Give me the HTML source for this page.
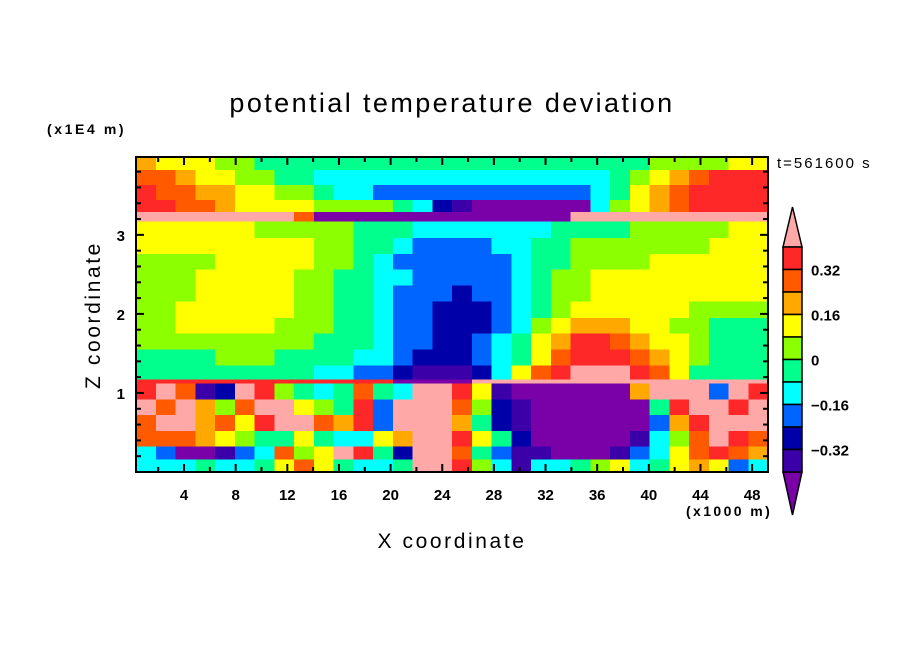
<!DOCTYPE html>
<html><head><meta charset="utf-8"><style>
html,body{margin:0;padding:0;background:#fff;}
svg{display:block;font-family:"Liberation Sans",sans-serif;}
</style></head><body>
<svg id="chart" width="904" height="654" viewBox="0 0 904 654" xmlns="http://www.w3.org/2000/svg">
<rect width="904" height="654" fill="#fff"/>
<text x="452" y="112" text-anchor="middle" font-size="27" letter-spacing="2.4" fill="#000">potential temperature deviation</text>
<text x="47" y="134" font-size="14" font-weight="bold" letter-spacing="2.6" fill="#000">(x1E4 m)</text>
<text x="777" y="168" font-size="15" letter-spacing="2" fill="#000">t=561600 s</text>
<text x="686" y="516" font-size="14" font-weight="bold" letter-spacing="2.4" fill="#000">(x1000 m)</text>
<text x="452" y="548" text-anchor="middle" font-size="21" letter-spacing="2.6" fill="#000">X coordinate</text>
<text x="0" y="0" text-anchor="middle" font-size="21" letter-spacing="2.6" fill="#000" transform="translate(100,315) rotate(-90)">Z coordinate</text>
<g id="cells" shape-rendering="crispEdges"></g>
<g id="axes"></g>
<g id="cbar"></g>
</svg>
<script>
const levelColors = ["#7A00A8","#3C00A8","#0000A8","#0064FF","#00FFFF","#00FF8C","#8CFF00","#FFFF00","#FFA800","#FF5A00","#FF2828","#FFA8A8"];
const colorbarLabels = ["0.32","0.16","0","\u22120.16","\u22120.32"];
const xTicks = [4,8,12,16,20,24,28,32,36,40,44,48];
const yTicks = [1,2,3];
const xDomain = [0.28, 49.23];
const zDomain = [0, 3.985];
const zEdges = [3.985,3.82,3.63,3.44,3.29,3.17,2.96,2.76,2.56,2.36,2.16,1.95,1.75,1.55,1.35,1.17,1.12,0.92,0.72,0.52,0.32,0.16,0.0];
const grid = [
[8,7,7,7,6,6,5,5,5,5,5,5,5,5,5,5,5,5,5,5,5,5,5,5,5,5,6,6,6,6,7,7],
[9,9,8,7,7,6,6,5,5,4,4,4,4,4,4,4,4,4,4,4,4,4,4,4,5,6,7,8,9,10,10,10],
[10,9,9,8,8,7,7,6,6,5,4,4,3,3,3,3,3,3,3,3,3,3,3,4,5,7,8,9,10,10,10,10],
[10,10,9,9,8,7,7,7,7,6,6,6,6,5,4,2,1,0,0,0,0,0,0,4,6,7,8,9,10,10,10,10],
[11,11,11,11,11,11,11,11,9,0,0,0,0,0,0,0,0,0,0,0,0,0,11,11,11,11,11,11,11,11,11,11],
[7,7,7,7,7,7,6,6,6,6,6,5,5,5,4,4,4,4,4,4,4,5,5,5,5,6,6,6,6,6,7,7],
[7,7,7,7,7,7,7,7,7,6,6,5,5,4,3,3,3,3,4,4,5,5,6,6,6,6,6,6,6,7,7,7],
[6,6,6,6,7,7,7,7,7,6,6,5,4,3,3,3,3,3,3,4,5,5,6,6,6,6,7,7,7,7,7,7],
[6,6,6,7,7,7,7,7,6,6,5,5,4,4,3,3,3,3,3,4,5,6,6,7,7,7,7,7,7,7,7,7],
[6,6,6,7,7,7,7,7,6,6,5,5,4,3,3,3,2,3,3,4,5,6,6,7,7,7,7,7,7,7,7,7],
[6,6,7,7,7,7,7,7,6,6,5,5,4,3,3,2,2,2,3,4,5,6,7,7,7,7,7,7,6,6,6,6],
[6,6,7,7,7,7,7,6,6,6,5,5,4,3,3,2,2,2,3,4,6,7,8,8,8,7,7,6,6,5,5,5],
[6,6,6,6,6,6,6,6,6,5,5,5,4,3,3,2,2,3,4,5,7,8,10,10,9,8,7,7,6,5,5,5],
[5,5,5,5,6,6,6,5,5,5,5,4,4,3,2,2,2,3,4,5,7,9,10,10,10,9,8,7,6,5,5,5],
[5,5,5,5,5,5,5,5,5,4,4,3,3,2,1,1,1,2,4,7,9,10,11,11,11,10,9,7,5,5,5,5],
[10,10,10,10,10,10,10,10,10,10,10,10,10,0,0,0,0,11,11,11,11,11,11,11,11,11,11,11,11,11,11,11],
[10,11,9,1,2,11,10,6,5,4,5,9,5,4,11,11,10,7,1,0,0,0,0,0,0,8,11,11,11,3,11,10],
[11,9,11,8,6,9,11,11,7,6,5,10,3,11,11,11,9,6,2,1,0,0,0,0,0,0,5,10,11,11,10,11],
[9,11,11,8,9,7,10,11,11,9,8,10,3,11,11,11,8,5,2,1,0,0,0,0,0,0,3,8,10,11,11,11],
[9,9,9,8,7,6,5,5,7,5,4,4,7,8,11,11,10,7,5,2,0,0,0,0,0,1,4,6,9,11,10,9],
[4,3,0,0,1,3,4,9,6,7,11,10,5,2,11,11,9,5,3,1,1,0,0,0,1,3,4,7,9,10,9,8],
[4,4,4,5,4,4,5,7,9,7,5,4,4,5,11,11,10,6,4,1,4,4,5,6,7,4,5,7,8,7,3,4]
];
const NS="http://www.w3.org/2000/svg";
const PL=136, PR=768, PT=157, PB=472;
function xScale(v){return PL+(v-xDomain[0])/(xDomain[1]-xDomain[0])*(PR-PL);}
function zScale(v){return PB-(v-zDomain[0])/(zDomain[1]-zDomain[0])*(PB-PT);}
function mk(tag,attrs,parent){const e=document.createElementNS(NS,tag);for(const k in attrs)e.setAttribute(k,attrs[k]);parent.appendChild(e);return e;}
const cellsG=document.getElementById('cells');
const nCols=grid[0].length;
for(let r=0;r<grid.length;r++){
  const y0=zScale(zEdges[r]), y1=zScale(zEdges[r+1]);
  for(let c=0;c<nCols;c++){
    const xa=xDomain[0]+(xDomain[1]-xDomain[0])*c/nCols;
    const xb=xDomain[0]+(xDomain[1]-xDomain[0])*(c+1)/nCols;
    const x0=xScale(xa), x1=xScale(xb);
    const el=mk('rect',{x:x0.toFixed(2),y:y0.toFixed(2),width:(x1-x0+0.6).toFixed(2),height:(y1-y0+0.6).toFixed(2),fill:levelColors[grid[r][c]]},cellsG);
    
    
  }
}
const axesG=document.getElementById('axes');
const frame=mk('rect',{x:PL,y:PT,width:PR-PL,height:PB-PT,fill:'none',stroke:'#000','stroke-width':2},axesG);


for(let v=2;v<=48;v+=2){
  const x=xScale(v), len=(v%4===0)?8:5;
  mk('line',{x1:x,y1:PB,x2:x,y2:PB-len,stroke:'#000','stroke-width':2},axesG);
  mk('line',{x1:x,y1:PT,x2:x,y2:PT+len,stroke:'#000','stroke-width':2},axesG);
}
for(let i=1;i<=19;i++){
  const v=i*0.2, y=zScale(v), len=(i%5===0)?8:5;
  mk('line',{x1:PL,y1:y,x2:PL+len,y2:y,stroke:'#000','stroke-width':2},axesG);
  mk('line',{x1:PR,y1:y,x2:PR-len,y2:y,stroke:'#000','stroke-width':2},axesG);
}
xTicks.forEach(v=>{
  const t=mk('text',{x:xScale(v),y:500,'text-anchor':'middle','font-size':15,'font-weight':'bold',fill:'#000'},axesG);
  t.textContent=v;
  
  
});
yTicks.forEach(v=>{
  const t=mk('text',{x:125,y:zScale(v)+6,'text-anchor':'end','font-size':15,'font-weight':'bold',fill:'#000'},axesG);
  t.textContent=v;
  
  
});
const cbG=document.getElementById('cbar');
const CX0=783, CX1=802, CT=247, CB=472;
const nBox=levelColors.length-2, bh=(CB-CT)/nBox;
const topArrow=mk('polygon',{points:`${CX0},${CT} ${(CX0+CX1)/2},207 ${CX1},${CT}`,fill:levelColors[11],stroke:'#000','stroke-width':1.5},cbG);


const botArrow=mk('polygon',{points:`${CX0},${CB} ${(CX0+CX1)/2},515 ${CX1},${CB}`,fill:levelColors[0],stroke:'#000','stroke-width':1.5},cbG);


for(let i=0;i<nBox;i++){
  const b=mk('rect',{x:CX0,y:CT+i*bh,width:CX1-CX0,height:bh,fill:levelColors[10-i],stroke:'#000','stroke-width':1.5},cbG);
  
  
}
colorbarLabels.forEach((s,i)=>{
  const t=mk('text',{x:811,y:CT+(2*i+1)*bh+6,'font-size':15,'font-weight':'bold',fill:'#000'},cbG);
  t.textContent=s;
  
  
});
</script>
</body></html>
